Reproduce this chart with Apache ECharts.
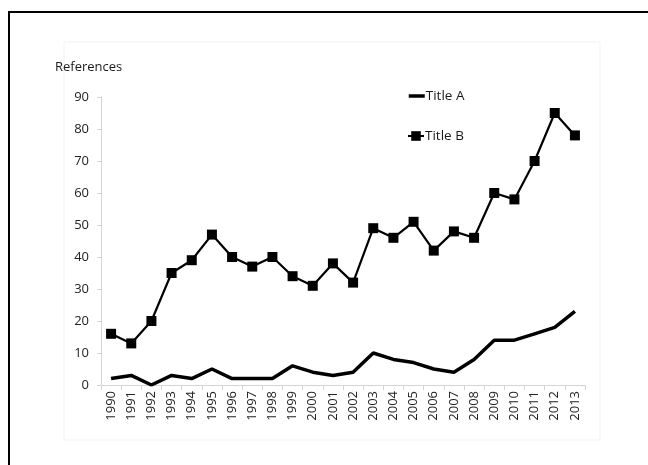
<!DOCTYPE html>
<html>
<head>
<meta charset="utf-8">
<script src="https://cdn.jsdelivr.net/npm/echarts@6/dist/echarts.min.js"></script>
<style>
  html, body { margin: 0; padding: 0; background: #fff; }
  #chart { width: 648px; height: 465px; }
</style>
</head>
<body>
<div id="chart"></div>
<script>
// Yearly reference counts for two titles
const years = ['1990','1991','1992','1993','1994','1995','1996','1997','1998','1999','2000','2001',
               '2002','2003','2004','2005','2006','2007','2008','2009','2010','2011','2012','2013'];
const titleA = [2, 3, 0, 3, 2, 5, 2, 2, 2, 6, 4, 3, 4, 10, 8, 7, 5, 4, 8, 14, 14, 16, 18, 23];
const titleB = [16, 13, 20, 35, 39, 47, 40, 37, 40, 34, 31, 38, 32, 49, 46, 51, 42, 48, 46, 60, 58, 70, 85, 78];
const yTicks = [0, 10, 20, 30, 40, 50, 60, 70, 80, 90];

const FONT = '"Open Sans", Lato, sans-serif';
const chart = echarts.init(document.getElementById('chart'), null, { renderer: 'canvas' });

const legendText = { fontFamily: FONT, fontSize: 13.5, color: '#1a1a1a', padding: [0, 0, 0, -4] };

chart.setOption({
  animation: false,
  backgroundColor: '#fff',
  textStyle: { fontFamily: FONT },
  graphic: [
    { type: 'rect', shape: { x: 9, y: 12, width: 700, height: 500 },
      style: { fill: 'none', stroke: '#000', lineWidth: 2 }, z: -1 },
    { type: 'rect', shape: { x: 64, y: 42, width: 536, height: 398 },
      style: { fill: 'none', stroke: '#f3f3f3', lineWidth: 1 }, z: -1 },
    { type: 'text', left: 55, top: 61,
      style: { text: 'References', fontFamily: FONT, fontSize: 13, fill: '#1a1a1a' } }
  ],
  legend: [
    {
      left: 402, top: 84, itemWidth: 16, itemHeight: 14,
      textStyle: legendText,
      data: [{ name: 'Title A', itemStyle: { opacity: 0 }, lineStyle: { width: 3.5, color: '#000' } }]
    },
    {
      left: 402, top: 124, itemWidth: 16, itemHeight: 12,
      textStyle: legendText,
      data: ['Title B']
    }
  ],
  grid: { left: 101, top: 97, right: 63, bottom: 80, containLabel: false },
  xAxis: {
    type: 'category',
    data: years,
    boundaryGap: true,
    axisLine: { lineStyle: { color: '#d4d4d4', width: 1 } },
    axisTick: { show: true, length: 5, alignWithLabel: false, lineStyle: { color: '#d4d4d4' } },
    axisLabel: { rotate: 90, interval: 0, fontFamily: FONT, fontSize: 13, color: '#222', margin: 6 },
    splitLine: { show: false }
  },
  yAxis: {
    type: 'value',
    min: 0, max: 90, interval: 10,
    axisLine: { show: true, lineStyle: { color: '#d4d4d4', width: 1 } },
    axisTick: { show: true, length: 4, lineStyle: { color: '#d4d4d4' } },
    axisLabel: {
      fontFamily: FONT, fontSize: 13, color: '#222', margin: 12,
      formatter: v => (yTicks.includes(v) ? String(v) : '')
    },
    splitLine: { show: false }
  },
  series: [
    {
      name: 'Title A', type: 'line', data: titleA,
      symbol: 'none',
      lineStyle: { color: '#000', width: 3.5 },
      itemStyle: { color: '#000' }
    },
    {
      name: 'Title B', type: 'line', data: titleB,
      symbol: 'rect', symbolSize: 10,
      lineStyle: { color: '#000', width: 2.2 },
      itemStyle: { color: '#000' }
    }
  ]
});
</script>
</body>
</html>
